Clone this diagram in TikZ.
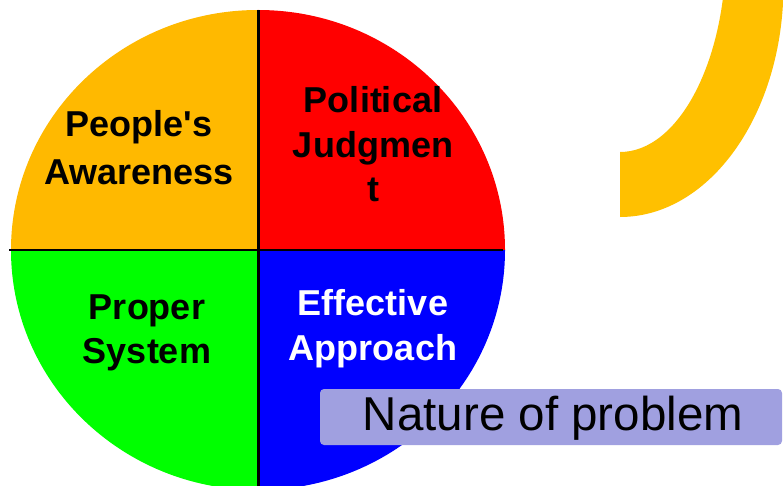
\documentclass[tikz,border=0pt]{standalone}
\usepackage{fontspec}
\setmainfont{Liberation Sans}[Ligatures=TeXOff]
\definecolor{qorange}{RGB}{255,185,0}
\definecolor{qred}{RGB}{255,0,0}
\definecolor{qgreen}{RGB}{0,255,0}
\definecolor{qblue}{RGB}{0,0,255}
\definecolor{arcorange}{RGB}{255,192,0}
\definecolor{boxviolet}{RGB}{160,160,224}
\tikzset{
  qlabel/.style={font=\bfseries\fontsize{36}{#1}\selectfont, align=center, inner sep=0pt, anchor=base},
  qlabel/.default=45,
  divider/.style={draw=black},
  problabel/.style={font=\fontsize{47.5}{50}\selectfont, inner sep=0pt, anchor=base}
}
\begin{document}
\begin{tikzpicture}[x=1pt,y=-1pt]
\useasboundingbox (0,0) rectangle (783,486);
\begin{scope}
\clip (0,0) rectangle (783,486);
% pie quadrants
\begin{scope}
\clip (258,250) ellipse [x radius=247, y radius=240];
\fill[qorange] (0,0) rectangle (258,250);
\fill[qred] (258,0) rectangle (783,250);
\fill[qgreen] (0,250) rectangle (258,486);
\fill[qblue] (258,250) rectangle (783,486);
\end{scope}
\draw[divider, line width=3pt] (258,10) -- (258,486);
\draw[divider, line width=2.5pt] (9,250) -- (503,250);
% orange arc band
\begin{scope}
\clip (620,0) rectangle (783,486);
\fill[arcorange, even odd rule] (620,-15) ellipse [x radius=163.5, y radius=232]
  (620,-50) ellipse [x radius=106, y radius=202];
\end{scope}
% nature of problem box
\fill[boxviolet, rounded corners=4pt] (320,389) rectangle (782,445);
\end{scope}
\node[qlabel=47.5] (aware) at (139,184.3) {People's\\Awareness};
\node[qlabel=44.5] (polit) at (373,202) {Political\\Judgmen\\t};
\node[qlabel=44] (system) at (147,363.3) {Proper\\System};
\node[qlabel=45, text=white] (approach) at (373,360) {Effective\\Approach};
\node[problabel] (nature) at (553,430) {Nature of problem};
\end{tikzpicture}
\end{document}
